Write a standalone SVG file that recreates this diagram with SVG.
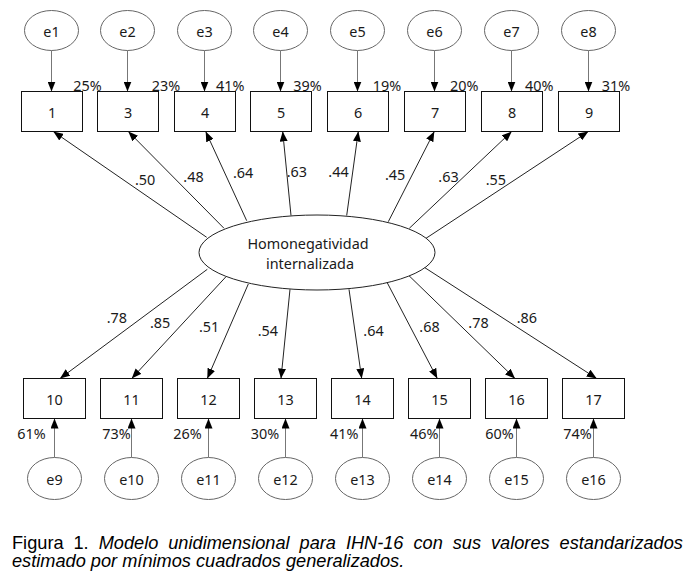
<svg xmlns="http://www.w3.org/2000/svg" width="694" height="582" viewBox="0 0 694 582">
<style>
text{font-family:"Noto Sans","Open Sans","DejaVu Sans",sans-serif;font-size:14.4px;fill:#1a1a1a}
.c{text-anchor:middle}
.box{fill:#fff;stroke:#111;stroke-width:1}
.err{fill:#fff;stroke:#666;stroke-width:1}
.lat{fill:#fff;stroke:#222;stroke-width:1}
.ea{stroke:#777;stroke-width:1;fill:none;marker-end:url(#ah)}
.la{stroke:#222;stroke-width:1;fill:none;marker-end:url(#ah)}
.cap{font-family:"Liberation Sans",Arial,sans-serif;font-size:18.2px;fill:#000}
</style>
<defs>
<marker id="ah" markerUnits="userSpaceOnUse" markerWidth="10" markerHeight="8" refX="10" refY="4" orient="auto">
<path d="M0,0 L10,4 L0,8 z" fill="#000"/>
</marker>
</defs>
<rect width="694" height="582" fill="#fff"/>

<g id="connectors">
<line class="ea" x1="51.5" y1="50.5" x2="51.5" y2="91.5"/>
<line class="ea" x1="127.5" y1="50.5" x2="127.5" y2="91.5"/>
<line class="ea" x1="204.5" y1="50.5" x2="204.5" y2="91.5"/>
<line class="ea" x1="280.5" y1="50.5" x2="280.5" y2="91.5"/>
<line class="ea" x1="357.5" y1="50.5" x2="357.5" y2="91.5"/>
<line class="ea" x1="434.5" y1="50.5" x2="434.5" y2="91.5"/>
<line class="ea" x1="511.5" y1="50.5" x2="511.5" y2="91.5"/>
<line class="ea" x1="588.5" y1="50.5" x2="588.5" y2="91.5"/>

<line class="ea" x1="54.5" y1="457.5" x2="54.5" y2="418.5"/>
<line class="ea" x1="131.5" y1="457.5" x2="131.5" y2="418.5"/>
<line class="ea" x1="208.5" y1="457.5" x2="208.5" y2="418.5"/>
<line class="ea" x1="285.5" y1="457.5" x2="285.5" y2="418.5"/>
<line class="ea" x1="362.5" y1="457.5" x2="362.5" y2="418.5"/>
<line class="ea" x1="439.5" y1="457.5" x2="439.5" y2="418.5"/>
<line class="ea" x1="516.5" y1="457.5" x2="516.5" y2="418.5"/>
<line class="ea" x1="593.5" y1="457.5" x2="593.5" y2="418.5"/>

<line class="la" x1="206.7" y1="237.3" x2="53.3" y2="131.5"/>
<line class="la" x1="224" y1="228.3" x2="128.3" y2="131.5"/>
<line class="la" x1="246.7" y1="220.7" x2="205.7" y2="131.5"/>
<line class="la" x1="291" y1="215.5" x2="282.7" y2="131.5"/>
<line class="la" x1="346.7" y1="215.5" x2="358.3" y2="131.5"/>
<line class="la" x1="388.3" y1="221.7" x2="434.3" y2="131.5"/>
<line class="la" x1="409.3" y1="228.3" x2="511.7" y2="131.5"/>
<line class="la" x1="426" y1="238.3" x2="588.3" y2="131.5"/>

<line class="la" x1="207.3" y1="269.3" x2="60" y2="378.5"/>
<line class="la" x1="226" y1="276.7" x2="131.7" y2="378.5"/>
<line class="la" x1="248.3" y1="284" x2="207.3" y2="378.5"/>
<line class="la" x1="290" y1="289.3" x2="281" y2="378.5"/>
<line class="la" x1="349" y1="289.3" x2="361.7" y2="378.5"/>
<line class="la" x1="386.7" y1="281.7" x2="437.3" y2="378.5"/>
<line class="la" x1="408.3" y1="275" x2="515" y2="378.5"/>
<line class="la" x1="423.3" y1="266.7" x2="596.7" y2="378.5"/>
</g>

<g id="labels">
<text x="73.3" y="90.5">25%</text>
<text x="151.7" y="90.5">23%</text>
<text x="216" y="90.5">41%</text>
<text x="293.3" y="90.5">39%</text>
<text x="372.7" y="90.5">19%</text>
<text x="450" y="90.5">20%</text>
<text x="525" y="90.5">40%</text>
<text x="601.7" y="90.5">31%</text>

<text x="17.3" y="438.5">61%</text>
<text x="102.3" y="438.5">73%</text>
<text x="173.3" y="438.5">26%</text>
<text x="250.7" y="438.5">30%</text>
<text x="330" y="438.5">41%</text>
<text x="410" y="438.5">46%</text>
<text x="485.3" y="438.5">60%</text>
<text x="563.3" y="438.5">74%</text>

<text x="135" y="185">.50</text>
<text x="183.3" y="181.7">.48</text>
<text x="233" y="178">.64</text>
<text x="286.7" y="176.7">.63</text>
<text x="328.3" y="177">.44</text>
<text x="385" y="180">.45</text>
<text x="438.3" y="181.7">.63</text>
<text x="485.7" y="185">.55</text>

<text x="106.7" y="323.3">.78</text>
<text x="150" y="327.7">.85</text>
<text x="199" y="332.3">.51</text>
<text x="257.7" y="335.7">.54</text>
<text x="363.3" y="335.7">.64</text>
<text x="419.3" y="332.3">.68</text>
<text x="468.3" y="327.7">.78</text>
<text x="516.7" y="322.7">.86</text>
</g>

<g id="latent">
<ellipse class="lat" cx="317" cy="252.5" rx="118" ry="37.5"/>
<text class="c" x="308" y="249">Homonegatividad</text>
<text class="c" x="310" y="268.5">internalizada</text>
</g>

<g id="e1"><ellipse class="err" cx="51.5" cy="30.5" rx="27" ry="20"/><text class="c" x="51.5" y="37">e1</text></g>
<g id="e2"><ellipse class="err" cx="127.5" cy="30.5" rx="27" ry="20"/><text class="c" x="127.5" y="37">e2</text></g>
<g id="e3"><ellipse class="err" cx="204.5" cy="30.5" rx="27" ry="20"/><text class="c" x="204.5" y="37">e3</text></g>
<g id="e4"><ellipse class="err" cx="280.5" cy="30.5" rx="27" ry="20"/><text class="c" x="280.5" y="37">e4</text></g>
<g id="e5"><ellipse class="err" cx="357.5" cy="30.5" rx="27" ry="20"/><text class="c" x="357.5" y="37">e5</text></g>
<g id="e6"><ellipse class="err" cx="434.5" cy="30.5" rx="27" ry="20"/><text class="c" x="434.5" y="37">e6</text></g>
<g id="e7"><ellipse class="err" cx="511.5" cy="30.5" rx="27" ry="20"/><text class="c" x="511.5" y="37">e7</text></g>
<g id="e8"><ellipse class="err" cx="588.5" cy="30.5" rx="27" ry="20"/><text class="c" x="588.5" y="37">e8</text></g>

<g id="v1"><rect class="box" x="21.5" y="91.5" width="61" height="40"/><text class="c" x="52" y="117.5">1</text></g>
<g id="v3"><rect class="box" x="97.5" y="91.5" width="61" height="40"/><text class="c" x="128" y="117.5">3</text></g>
<g id="v4"><rect class="box" x="174.5" y="91.5" width="61" height="40"/><text class="c" x="205" y="117.5">4</text></g>
<g id="v5"><rect class="box" x="250.5" y="91.5" width="61" height="40"/><text class="c" x="281" y="117.5">5</text></g>
<g id="v6"><rect class="box" x="327.5" y="91.5" width="61" height="40"/><text class="c" x="358" y="117.5">6</text></g>
<g id="v7"><rect class="box" x="404.5" y="91.5" width="61" height="40"/><text class="c" x="435" y="117.5">7</text></g>
<g id="v8"><rect class="box" x="481.5" y="91.5" width="61" height="40"/><text class="c" x="512" y="117.5">8</text></g>
<g id="v9"><rect class="box" x="558.5" y="91.5" width="61" height="40"/><text class="c" x="589" y="117.5">9</text></g>

<g id="v10"><rect class="box" x="23.5" y="378.5" width="62" height="40"/><text class="c" x="54.5" y="405">10</text></g>
<g id="v11"><rect class="box" x="100.5" y="378.5" width="62" height="40"/><text class="c" x="131.5" y="405">11</text></g>
<g id="v12"><rect class="box" x="177.5" y="378.5" width="62" height="40"/><text class="c" x="208.5" y="405">12</text></g>
<g id="v13"><rect class="box" x="254.5" y="378.5" width="62" height="40"/><text class="c" x="285.5" y="405">13</text></g>
<g id="v14"><rect class="box" x="331.5" y="378.5" width="62" height="40"/><text class="c" x="362.5" y="405">14</text></g>
<g id="v15"><rect class="box" x="408.5" y="378.5" width="62" height="40"/><text class="c" x="439.5" y="405">15</text></g>
<g id="v16"><rect class="box" x="485.5" y="378.5" width="62" height="40"/><text class="c" x="516.5" y="405">16</text></g>
<g id="v17"><rect class="box" x="562.5" y="378.5" width="62" height="40"/><text class="c" x="593.5" y="405">17</text></g>

<g id="e9"><ellipse class="err" cx="54.5" cy="478.5" rx="27" ry="21"/><text class="c" x="54.5" y="485">e9</text></g>
<g id="e10"><ellipse class="err" cx="131.5" cy="478.5" rx="27" ry="21"/><text class="c" x="131.5" y="485">e10</text></g>
<g id="e11"><ellipse class="err" cx="208.5" cy="478.5" rx="27" ry="21"/><text class="c" x="208.5" y="485">e11</text></g>
<g id="e12"><ellipse class="err" cx="285.5" cy="478.5" rx="27" ry="21"/><text class="c" x="285.5" y="485">e12</text></g>
<g id="e13"><ellipse class="err" cx="362.5" cy="478.5" rx="27" ry="21"/><text class="c" x="362.5" y="485">e13</text></g>
<g id="e14"><ellipse class="err" cx="439.5" cy="478.5" rx="27" ry="21"/><text class="c" x="439.5" y="485">e14</text></g>
<g id="e15"><ellipse class="err" cx="516.5" cy="478.5" rx="27" ry="21"/><text class="c" x="516.5" y="485">e15</text></g>
<g id="e16"><ellipse class="err" cx="593.5" cy="478.5" rx="27" ry="21"/><text class="c" x="593.5" y="485">e16</text></g>

<g id="caption">
<text class="cap" x="12" y="549" word-spacing="4.9">Figura 1. <tspan font-style="italic">Modelo unidimensional para IHN-16 con sus valores estandarizados</tspan></text>
<text class="cap" x="12" y="567" font-style="italic">estimado por mínimos cuadrados generalizados.</text>
</g>
</svg>
